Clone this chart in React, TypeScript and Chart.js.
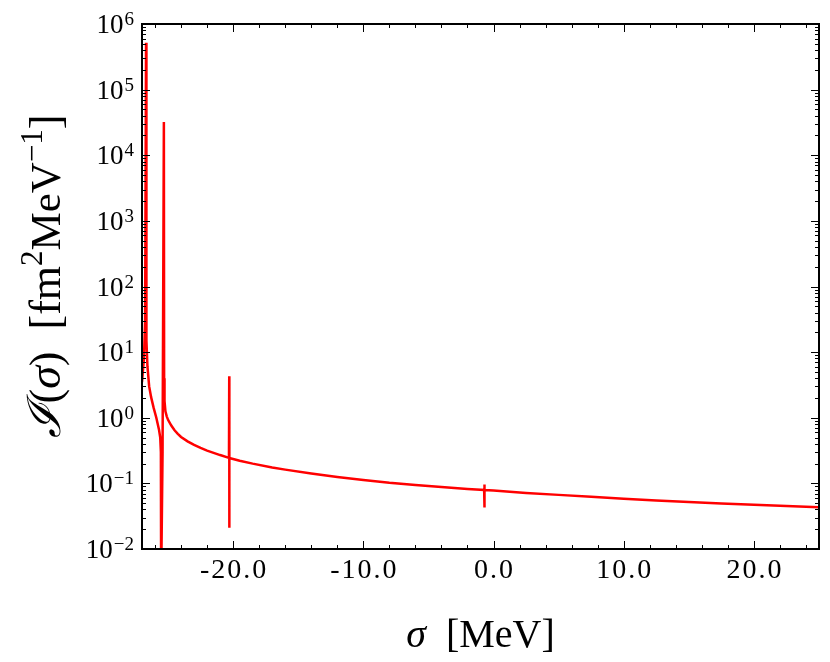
import { useEffect, useRef } from 'react';
import { Chart, registerables } from 'chart.js';
Chart.register(...registerables);

// sigma in MeV, intensity in fm^2 MeV^-1
const sigma = [
  -27.0, -26.85, -26.76, -26.69, -26.66, -26.58, -26.45, -26.3, -26.1, -25.9, -25.69, -25.6, -25.55,
  -25.53, -25.47, -25.42, -25.32, -25.3, -25.27, -25.2, -25.1, -25.0, -24.75, -24.5, -24.25, -24.0,
  -23.5, -23.0, -22.5, -22.0, -21.5, -21.0, -20.32, -20.3, -20.3, -20.28, -19.5, -18.5, -17.0, -16.0,
  -14.0, -12.0, -10.0, -8.0, -6.0, -4.0, -2.0, -0.72, -0.7, -0.7, -0.68, 0.0, 2.5, 5.0, 7.5, 10.0,
  12.5, 15.0, 17.5, 20.0, 22.5, 25.0,
];
const intensity = [
  3.5, 8, 30, 520000, 15, 6, 3, 2.06, 1.4, 1.0, 0.65, 0.5, 0.3,
  0.003, 0.003, 0.3, 32000, 4, 1.8, 1.25, 1.05, 0.93, 0.76, 0.645, 0.57, 0.51,
  0.437, 0.385, 0.347, 0.316, 0.292, 0.27, 0.245, 4.3, 0.021, 0.243, 0.221, 0.2, 0.175, 0.162,
  0.141, 0.125, 0.113, 0.102, 0.0944, 0.0877, 0.0822, 0.0794, 0.096, 0.043, 0.079, 0.0776, 0.0716, 0.0668, 0.0624, 0.0582,
  0.055, 0.0521, 0.0495, 0.0473, 0.0452, 0.0432,
];

const xMin = -27;
const xMax = 25;
const xMinorStep = 2;
const xTickValues = [-20, -10, 0, 10, 20];
const xTickLabels = ['-20.0', '-10.0', '0.0', '10.0', '20.0'];
const yExponents = [-2, -1, 0, 1, 2, 3, 4, 5, 6];

const SERIF = '"Liberation Serif", "DejaVu Serif", serif';

type Seg = { t: string; size: number; italic?: boolean; dy?: number };

function segFont(s: Seg) {
  return `${s.italic ? 'italic ' : ''}${s.size}px ${SERIF}`;
}

function drawRich(ctx: CanvasRenderingContext2D, segs: Seg[], cx: number, baseline: number) {
  let total = 0;
  for (const s of segs) {
    ctx.font = segFont(s);
    total += ctx.measureText(s.t).width;
  }
  let x = cx - total / 2;
  ctx.textAlign = 'left';
  ctx.textBaseline = 'alphabetic';
  for (const s of segs) {
    ctx.font = segFont(s);
    ctx.fillText(s.t, x, baseline - (s.dy || 0));
    x += ctx.measureText(s.t).width;
  }
}

const xTitle: Seg[] = [
  { t: 'σ', size: 40, italic: true },
  { t: '  [MeV]', size: 40 },
];
const yTitle: Seg[] = [
  { t: 'ℐ', size: 46, italic: true },
  { t: '(', size: 44 },
  { t: 'σ', size: 46, italic: true },
  { t: ')  [fm', size: 44 },
  { t: '2', size: 31, dy: 18 },
  { t: 'MeV', size: 43 },
  { t: '−1', size: 31, dy: 18 },
  { t: ']', size: 44 },
];

const framePlugin = {
  id: 'frame',
  afterDatasetsDraw(chart: any) {
    const { ctx, chartArea: a, scales } = chart;
    const xs = scales.x;
    const ys = scales.y;
    ctx.save();
    ctx.strokeStyle = '#000';
    ctx.fillStyle = '#000';
    const seg = (x1: number, y1: number, x2: number, y2: number) => {
      ctx.beginPath();
      ctx.moveTo(x1, y1);
      ctx.lineTo(x2, y2);
      ctx.stroke();
    };
    // x ticks (inside, bottom and top)
    ctx.lineWidth = 1;
    for (let v = Math.ceil(xMin / xMinorStep) * xMinorStep; v <= xMax; v += xMinorStep) {
      const px = Math.round(xs.getPixelForValue(v)) + 0.5;
      const len = xTickValues.includes(v) ? 8 : 4;
      seg(px, a.bottom, px, a.bottom - len);
      seg(px, a.top, px, a.top + len);
    }
    // y ticks (inside, left and right)
    for (let i = 0; i < yExponents.length; i++) {
      const e = yExponents[i];
      for (let m = 1; m < 10; m++) {
        if (m > 1 && i === yExponents.length - 1) break;
        const py = Math.round(ys.getPixelForValue(m * Math.pow(10, e))) + 0.5;
        const len = m === 1 ? 8 : 4;
        seg(a.left, py, a.left + len, py);
        seg(a.right, py, a.right - len, py);
      }
    }
    // frame
    ctx.lineWidth = 2;
    ctx.strokeRect(a.left, a.top, a.right - a.left, a.bottom - a.top);

    // x tick labels
    ctx.textAlign = 'center';
    ctx.textBaseline = 'alphabetic';
    ctx.font = `28px ${SERIF}`;
    (ctx as any).letterSpacing = '2px';
    xTickValues.forEach((v, i) => {
      ctx.fillText(xTickLabels[i], xs.getPixelForValue(v) + 1, a.bottom + 29);
    });
    (ctx as any).letterSpacing = '0px';

    // y tick labels 10^e
    const rightEdge = a.left - 8;
    yExponents.forEach(e => {
      const py = ys.getPixelForValue(Math.pow(10, e));
      const ex = e < 0 ? '−' + Math.abs(e) : String(e);
      ctx.font = `19px ${SERIF}`;
      const we = ctx.measureText(ex).width;
      ctx.textAlign = 'left';
      ctx.fillText(ex, rightEdge - we, py + 1);
      ctx.font = `27px ${SERIF}`;
      ctx.textAlign = 'right';
      ctx.fillText('10', rightEdge - we - 1, py + 9);
    });

    // axis titles
    drawRich(ctx, xTitle, (a.left + a.right) / 2, 647);
    ctx.translate(60, 276);
    ctx.rotate(-Math.PI / 2);
    drawRich(ctx, yTitle, 0, 0);
    ctx.restore();
  },
};

export default function App() {
  const canvasRef = useRef<HTMLCanvasElement>(null);
  const chartRef = useRef<Chart | null>(null);

  useEffect(() => {
    if (!canvasRef.current) return;
    if (chartRef.current) chartRef.current.destroy();

    chartRef.current = new Chart(canvasRef.current, {
      type: 'line',
      data: {
        datasets: [
          {
            label: 'I(sigma)',
            data: sigma.map((s, i) => ({ x: s, y: intensity[i] })),
            borderColor: '#ff0000',
            backgroundColor: '#ff0000',
            borderWidth: 2.5,
            pointRadius: 0,
            tension: 0,
            fill: false,
          },
        ],
      },
      options: {
        animation: false,
        responsive: true,
        maintainAspectRatio: false,
        layout: { padding: { top: 24, right: 11, left: 0, bottom: 0 } },
        plugins: { legend: { display: false }, tooltip: { enabled: false } },
        scales: {
          x: {
            type: 'linear',
            min: xMin,
            max: xMax,
            grid: { display: false },
            border: { display: false },
            ticks: { display: false },
            afterFit: (s: any) => { s.height = 113; },
          },
          y: {
            type: 'logarithmic',
            min: 1e-2,
            max: 1e6,
            grid: { display: false },
            border: { display: false },
            ticks: { display: false },
            afterFit: (s: any) => { s.width = 142; },
          },
        },
      },
      plugins: [framePlugin],
    });

    return () => { chartRef.current?.destroy(); };
  }, []);

  return (
    <div style={{ position: 'fixed', left: 0, top: 0, width: 830, height: 662, background: '#fff' }}>
      <canvas ref={canvasRef} role="img" aria-label="Intensity versus sigma" />
    </div>
  );
}
